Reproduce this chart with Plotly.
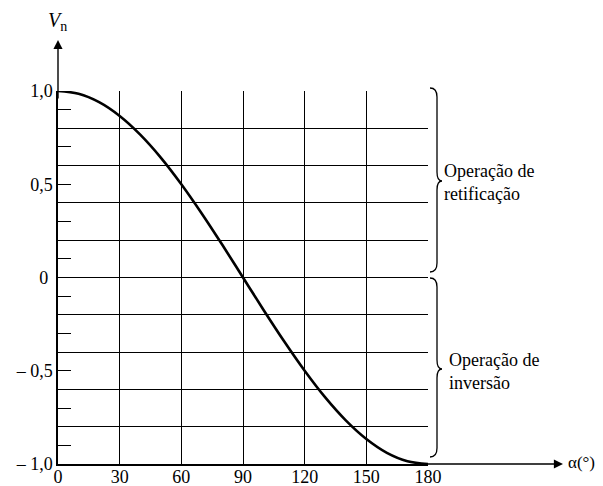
import plotly.graph_objects as go

# data
alpha_deg = [0, 10, 20, 30, 40, 50, 60, 70, 80, 90, 100, 110, 120, 130, 140, 150, 160, 170, 180]
vn = [1.0, 0.985, 0.94, 0.866, 0.766, 0.643, 0.5, 0.342, 0.174, 0.0,
      -0.174, -0.342, -0.5, -0.643, -0.766, -0.866, -0.94, -0.985, -1.0]
x_ticks = [0, 30, 60, 90, 120, 150, 180]
y_grid = [-1.0, -0.8, -0.6, -0.4, -0.2, 0.0, 0.2, 0.4, 0.6, 0.8, 1.0]
y_ticks = [-1.0, -0.9, -0.8, -0.7, -0.6, -0.5, -0.4, -0.3, -0.2, -0.1, 0.0,
           0.1, 0.2, 0.3, 0.4, 0.5, 0.6, 0.7, 0.8, 0.9, 1.0]
y_labels = {1.0: "1,0", 0.5: "0,5", 0.0: "0\u00a0", -0.5: "\u2013 0,5", -1.0: "\u2013 1,0"}

OFF = 8  # page body margin
W, H = 603 - OFF, 486 - OFF
ML, MR, MT, MB = 58 - OFF, 175, 91 - OFF, 22
PW, PH = W - ML - MR, H - MT - MB
FONT = "Liberation Serif, Times New Roman, serif"


def px(x):
    return (x - OFF - ML) / PW


def py(y):
    return (H - MB - (y - OFF)) / PH


def brace(x0, ytop, ybot, ymid, w=7, tip=5, r=9):
    xs = x0 + w
    pts = (
        f"M {px(x0)},{py(ytop)} "
        f"Q {px(xs)},{py(ytop)} {px(xs)},{py(ytop + r)} "
        f"L {px(xs)},{py(ymid - r)} "
        f"Q {px(xs)},{py(ymid)} {px(xs + tip)},{py(ymid)} "
        f"Q {px(xs)},{py(ymid)} {px(xs)},{py(ymid + r)} "
        f"L {px(xs)},{py(ybot - r)} "
        f"Q {px(xs)},{py(ybot)} {px(x0)},{py(ybot)}"
    )
    return dict(type="path", xref="paper", yref="paper", path=pts,
                line=dict(color="black", width=1.3))


fig = go.Figure()
fig.add_trace(go.Scatter(x=alpha_deg, y=vn, mode="lines", line=dict(color="black", width=2.6, shape="spline", smoothing=1.0),
                         hoverinfo="skip", showlegend=False, cliponaxis=False))
fig.add_trace(go.Scatter(x=alpha_deg, y=vn, yaxis="y2", mode="lines", line=dict(width=0, color="rgba(0,0,0,0)"),
                         hoverinfo="skip", showlegend=False))

fig.update_layout(
    width=W, height=H,
    margin=dict(l=ML, r=MR, t=MT, b=MB, autoexpand=False),
    paper_bgcolor="white", plot_bgcolor="white",
    font=dict(family=FONT, size=18, color="black"),
    xaxis=dict(range=[0, 180], tickvals=x_ticks, ticktext=[str(v) for v in x_ticks], automargin=False,
               showgrid=True, gridcolor="black", gridwidth=1.3, zeroline=False,
               showline=True, linecolor="black", linewidth=1.5, ticks="", ticklabelstandoff=-4,
               tickfont=dict(family=FONT, size=18, color="black")),
    yaxis=dict(range=[-1, 1], tickvals=y_grid, showticklabels=False, ticks="", automargin=False,
               showgrid=True, gridcolor="black", gridwidth=1.3, zeroline=False, showline=False),
    yaxis2=dict(range=[-1, 1], overlaying="y", side="left", tickvals=y_ticks, automargin=False,
                ticktext=[y_labels.get(round(v, 1), "") for v in y_ticks],
                ticks="inside", ticklen=13, tickwidth=1.3, tickcolor="black",
                showgrid=False, zeroline=False, showline=True, linecolor="black", linewidth=1.5,
                tickfont=dict(family=FONT, size=18, color="black")),
    shapes=[brace(430, 88, 272, 181), brace(430, 278, 457, 369)],
    annotations=[
        dict(xref="paper", yref="paper", x=px(563), y=py(464), ax=-140, ay=0, text="",
             showarrow=True, arrowhead=2, arrowsize=1.3, arrowwidth=1.4, arrowcolor="black"),
        dict(xref="paper", yref="paper", x=px(58), y=py(40), ax=0, ay=60, text="",
             showarrow=True, arrowhead=2, arrowsize=1.3, arrowwidth=1.4, arrowcolor="black"),
        dict(xref="paper", yref="paper", x=px(566), y=py(462), text="\u03b1(\u00b0)", showarrow=False,
             xanchor="left", yanchor="middle", font=dict(family=FONT, size=17)),
        dict(xref="paper", yref="paper", x=px(46), y=py(21), text="<i>V</i><sub>n</sub>", showarrow=False,
             xanchor="left", yanchor="middle", font=dict(family=FONT, size=20)),
        dict(xref="paper", yref="paper", x=px(442), y=py(182), text="Operação de<br>retificação", showarrow=False,
             xanchor="left", yanchor="middle", align="left", font=dict(family=FONT, size=18)),
        dict(xref="paper", yref="paper", x=px(447), y=py(371), text="Operação de<br>inversão", showarrow=False,
             xanchor="left", yanchor="middle", align="left", font=dict(family=FONT, size=18)),
    ],
)

fig.write_html("out.html")
